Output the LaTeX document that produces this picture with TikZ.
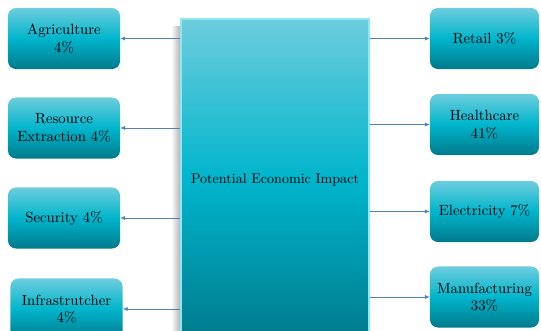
\documentclass[tikz,border=0pt]{standalone}
\usepackage{xcolor}
\usepackage{tikz}
\usetikzlibrary{arrows.meta,positioning}

\definecolor{tealtop}{HTML}{6DCDDD}
\definecolor{tealmid}{HTML}{00B5CC}
\definecolor{tealbot}{HTML}{007A8C}
\definecolor{rimcyan}{HTML}{8FE6F4}
\definecolor{linkblue}{HTML}{4F81BD}

\tikzset{
    sector/.style={rounded corners=0.2cm, top color=tealtop, bottom color=tealbot,
        middle color=tealmid, align=center, font=\fontsize{10.5}{12.5}\selectfont,
        minimum width=2.8cm, minimum height=1.525cm, inner sep=2pt},
    link/.style={linkblue, line width=0.5pt, -{Latex[length=3.5pt,width=3pt]}}
}

\begin{document}
\begin{tikzpicture}[x=0.025cm, y=-0.025cm]
    \useasboundingbox (0,0) rectangle (541,330);
    \clip (0,0) rectangle (541,330);

    % soft shadow on the left of the centre column
    \shade[left color=white, right color=black!35] (171,26) rectangle (182,345);

    \node[draw=rimcyan, line width=1pt, top color=tealtop, bottom color=tealbot,
        middle color=tealmid, minimum width=4.7cm, minimum height=8.05cm,
        font=\fontsize{10}{12}\selectfont] (impact) at (275,180) {Potential Economic Impact};

    % sectors on the left
    \node[sector] (agri) at (64,38.5) {Agriculture\\4\%};
    \node[sector] (resource) at (64,128) {Resource\\Extraction 4\%};
    \node[sector] (security) at (64,218) {Security 4\%};
    \node[sector] (infra) at (66.5,309) {Infrastrutcher\\4\%};

    % sectors on the right
    \node[sector, minimum width=2.725cm] (retail) at (484.5,38.5) {Retail 3\%};
    \node[sector, minimum width=2.725cm] (health) at (484.5,124.5) {Healthcare\\41\%};
    \node[sector, minimum width=2.725cm] (elec) at (484.5,211.5) {Electricity 7\%};
    \node[sector, minimum width=2.725cm] (manuf) at (484.5,297) {Manufacturing\\33\%};

    \foreach \s in {agri,resource,security,infra}
        \draw[link] (\s -| impact.west) -- (\s.east);
    \foreach \s in {retail,health,elec,manuf}
        \draw[link] (\s -| impact.east) -- (\s.west);
\end{tikzpicture}
\end{document}
